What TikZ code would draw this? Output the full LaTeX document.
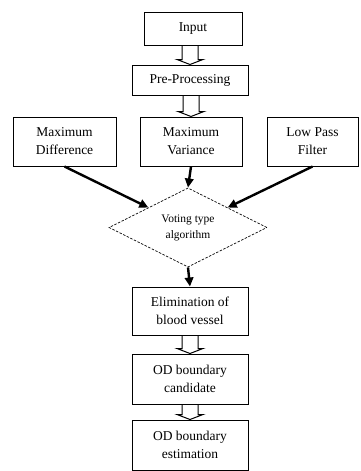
\documentclass[tikz,border=0pt]{standalone}
\usepackage{fontspec}
\setmainfont{Liberation Serif}
\usetikzlibrary{shapes.geometric,arrows.meta,calc}
\tikzset{
  box/.style={draw, line width=1pt, inner sep=1pt, align=center, font=\fontsize{13.5}{18}\selectfont},
  vote/.style={draw, diamond, dash pattern=on 2.5pt off 1.5pt, line width=0.7pt, inner sep=0pt, minimum width=158pt, minimum height=77pt, align=center, font=\fontsize{11.5}{16}\selectfont},
  thickarr/.style={line width=2.4pt, -{Triangle[length=9pt,width=8.5pt]}},
  hollowst/.style={line width=1pt, line join=miter},
}
\newcommand\hollowarr[2]{%
  \draw[hollowst] ($(#1.south -| #2.north)+(-8pt,0pt)$) -- ($(#2.north)+(-8pt,5pt)$) -- ($(#2.north)+(-13pt,5pt)$) -- (#2.north) -- ($(#2.north)+(13pt,5pt)$) -- ($(#2.north)+(8pt,5pt)$) -- ($(#1.south -| #2.north)+(8pt,0pt)$);%
}
\begin{document}
\begin{tikzpicture}[x=1pt,y=-1pt]
\useasboundingbox (0,0) rectangle (360,471);
\node[box, minimum width=98pt, minimum height=33pt] (in) at (193,28.5) {Input};
\node[box, minimum width=116pt, minimum height=30pt] (pre) at (190,80) {Pre-Processing};
\node[box, minimum width=103pt, minimum height=49pt] (md) at (64.5,141.5) {Maximum\\Difference};
\node[box, minimum width=102pt, minimum height=49pt] (mv) at (191,141.5) {Maximum\\Variance};
\node[box, minimum width=91pt, minimum height=49pt] (lp) at (312.5,141.5) {Low Pass\\Filter};
\node[vote] (vt) at (188,227.5) {Voting type\\algorithm};
\node[box, minimum width=116pt, minimum height=48pt] (el) at (190,311) {Elimination of\\blood vessel};
\node[box, minimum width=116pt, minimum height=50pt] (odc) at (190,379) {OD boundary\\candidate};
\node[box, minimum width=116pt, minimum height=50pt] (ode) at (190,445) {OD boundary\\estimation};
\hollowarr{in}{pre}
\hollowarr{pre}{mv}
\hollowarr{el}{odc}
\hollowarr{odc}{ode}
\draw[thickarr] (md.south) -- (vt.north west);
\draw[thickarr] (lp.south) -- (vt.north east);
\draw[thickarr] (mv.south) -- (vt.north);
\draw[thickarr] (vt.south) -- (el.north);
\end{tikzpicture}
\end{document}
